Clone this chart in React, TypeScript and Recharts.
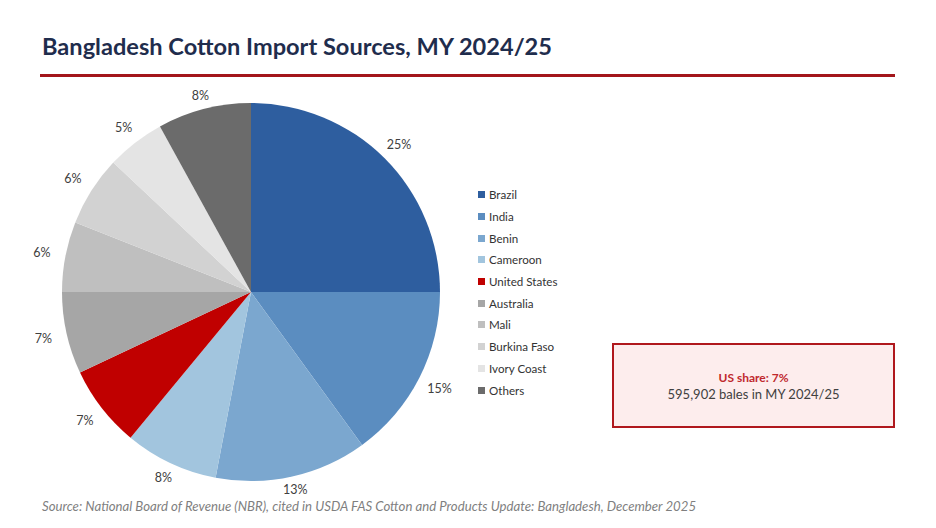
import React from "react";
import { PieChart, Pie, Cell, Legend } from "recharts";

const countries = [
  "Brazil",
  "India",
  "Benin",
  "Cameroon",
  "United States",
  "Australia",
  "Mali",
  "Burkina Faso",
  "Ivory Coast",
  "Others",
];
const shares = [25, 15, 13, 8, 7, 7, 6, 6, 5, 8];
const colors = [
  "#2E5E9F",
  "#5B8DC0",
  "#7BA7CF",
  "#A2C5DE",
  "#C00000",
  "#A6A6A6",
  "#BFBFBF",
  "#D2D2D2",
  "#E4E4E4",
  "#6B6B6B",
];

const data = countries.map((name, i) => ({ name, value: shares[i] }));

const FONT = "Lato, 'Open Sans', sans-serif";
const RADIAN = Math.PI / 180;

// Percentage labels sit just outside the rim; wider offset on the sides
// where the label's width faces the pie.
const renderLabel = (props: any) => {
  const { cx, cy, midAngle, outerRadius, value } = props;
  const ux = Math.cos(-midAngle * RADIAN);
  const uy = Math.sin(-midAngle * RADIAN);
  const r = outerRadius + 11 + 13 * Math.abs(ux);
  const x = cx + r * ux;
  const y = cy + r * uy;
  return (
    <text
      x={x}
      y={y}
      textAnchor="middle"
      dominantBaseline="central"
      fontSize={12.5}
      fontFamily={FONT}
      fill="#404040"
    >
      {`${value}%`}
    </text>
  );
};

const renderLegend = () => (
  <div style={{ fontFamily: FONT, fontSize: 11.6, color: "#333" }}>
    {countries.map((name, i) => (
      <div
        key={name}
        style={{ display: "flex", alignItems: "center", height: 21.7 }}
      >
        <span
          style={{
            display: "inline-block",
            width: 7,
            height: 7,
            background: colors[i],
            marginRight: 4,
          }}
        />
        <span>{name}</span>
      </div>
    ))}
  </div>
);

export default function App() {
  return (
    <div
      style={{
        position: "absolute",
        left: 0,
        top: 0,
        width: 936,
        height: 528,
        background: "#fff",
        fontFamily: FONT,
      }}
    >
      <div
        style={{
          position: "absolute",
          left: 42,
          top: 32,
          fontSize: 23.6,
          fontWeight: 700,
          color: "#1F2D4D",
          whiteSpace: "nowrap",
        }}
      >
        Bangladesh Cotton Import Sources, MY 2024/25
      </div>
      <div
        style={{
          position: "absolute",
          left: 40,
          top: 74,
          width: 855,
          height: 3,
          background: "#A3161B",
        }}
      />
      <div style={{ position: "absolute", left: 0, top: 0 }}>
        <PieChart
          width={936}
          height={528}
          margin={{ top: 0, right: 0, bottom: 0, left: 0 }}
        >
          <Pie
            data={data}
            dataKey="value"
            nameKey="name"
            cx={251}
            cy={292}
            outerRadius={189}
            startAngle={90}
            endAngle={-270}
            stroke="none"
            label={renderLabel}
            labelLine={false}
            isAnimationActive={false}
          >
            {data.map((d, i) => (
              <Cell key={d.name} fill={colors[i]} />
            ))}
          </Pie>
          <Legend
            content={renderLegend}
            wrapperStyle={{ position: "absolute", left: 478, top: 184, width: 130 }}
          />
        </PieChart>
      </div>
      <div
        style={{
          position: "absolute",
          left: 612,
          top: 343,
          width: 279,
          height: 81,
          border: "2px solid #B0181D",
          background: "#FDEDED",
          display: "flex",
          flexDirection: "column",
          alignItems: "center",
          justifyContent: "center",
          lineHeight: "16px",
        }}
      >
        <div style={{ fontSize: 12, fontWeight: 700, color: "#C0282D" }}>
          US share: 7%
        </div>
        <div style={{ fontSize: 13, color: "#404040" }}>
          595,902 bales in MY 2024/25
        </div>
      </div>
      <div
        style={{
          position: "absolute",
          left: 42,
          top: 498,
          fontSize: 13.2,
          fontStyle: "italic",
          color: "#7F7F7F",
          whiteSpace: "nowrap",
        }}
      >
        Source: National Board of Revenue (NBR), cited in USDA FAS Cotton and Products Update: Bangladesh, December 2025
      </div>
    </div>
  );
}
